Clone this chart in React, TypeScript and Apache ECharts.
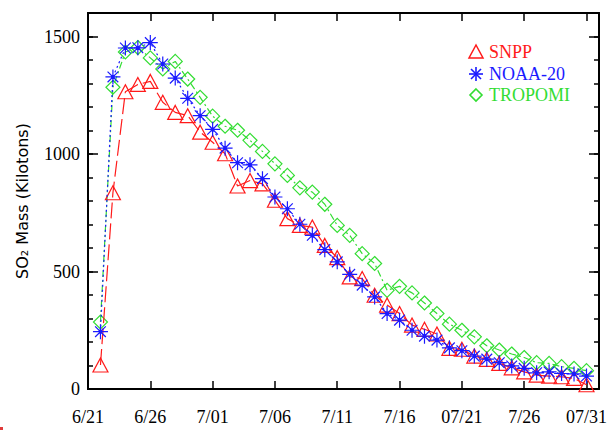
import React, { useEffect, useRef } from 'react';
import * as echarts from 'echarts';

// Observation dates (month-day), day 0 of the axis is 06-21
const axisStart = '06-21';
const dates = [
  '06-22', '06-23', '06-24', '06-25', '06-26', '06-27', '06-28', '06-29', '06-30',
  '07-01', '07-02', '07-03', '07-04', '07-05', '07-06', '07-07', '07-08', '07-09', '07-10',
  '07-11', '07-12', '07-13', '07-14', '07-15', '07-16', '07-17', '07-18', '07-19', '07-20',
  '07-21', '07-22', '07-23', '07-24', '07-25', '07-26', '07-27', '07-28', '07-29', '07-30',
  '07-31',
];
const xTickLabels = ['6/21', '6/26', '7/01', '7/06', '7/11', '7/16', '07/21', '7/26', '07/31'];
const yTickLabels = ['0', '500', '1000', '1500'];

const snpp = [
  102, 835, 1265, 1296, 1309, 1220, 1177, 1163, 1093, 1050,
  1001, 864, 887, 873, 803, 725, 696, 689, 611, 559,
  477, 470, 399, 357, 321, 272, 254, 234, 173, 169,
  140, 126, 109, 90, 73, 59, 55, 52, 45, 18,
];
const noaa20 = [
  244, 1328, 1451, 1452, 1474, 1383, 1323, 1237, 1163, 1105,
  1025, 963, 954, 895, 817, 767, 701, 654, 593, 541,
  488, 442, 392, 321, 293, 250, 225, 208, 175, 163,
  140, 127, 112, 98, 88, 69, 73, 66, 64, 55,
];
const tropomi = [
  285, 1284, 1434, 1453, 1409, 1362, 1394, 1319, 1241, 1161,
  1118, 1101, 1058, 1011, 958, 909, 856, 838, 786, 696,
  654, 576, 534, 420, 437, 409, 366, 321, 276, 250,
  222, 184, 166, 149, 134, 112, 109, 95, 88, 78,
];

const RED = '#ff1a1a';
const BLUE = '#1a1aff';
const GREEN = '#33dd33';
const SERIF = 'Liberation Serif';

function dayOffset(md: string): number {
  const [m, d] = md.split('-').map(Number);
  const [m0, d0] = axisStart.split('-').map(Number);
  return Math.round((Date.UTC(2021, m - 1, d) - Date.UTC(2021, m0 - 1, d0)) / 86400000);
}

const STAR =
  'path://M7,0L7,14M0,7L14,7M2,2L12,12M2,12L12,2M5.6,7a1.4,1.4 0 1,0 2.8,0a1.4,1.4 0 1,0 -2.8,0Z';

export default function App() {
  const ref = useRef<HTMLDivElement>(null);
  useEffect(() => {
    if (!ref.current) return;
    const chart = echarts.init(ref.current, undefined, { renderer: 'svg' });
    const toData = (vals: number[]) => dates.map((d, i) => [dayOffset(d), vals[i]]);

    const yBase = {
      type: 'value',
      min: 0,
      max: 1600,
      splitLine: { show: false },
      axisLine: { show: true, onZero: false, lineStyle: { color: '#000', width: 2 } },
    };
    const xBase = {
      type: 'value',
      min: 0,
      max: 41,
      interval: 5,
      splitLine: { show: false },
      axisLine: { show: true, onZero: false, lineStyle: { color: '#000', width: 2 } },
      axisTick: { show: true, inside: true, length: 8, lineStyle: { color: '#000', width: 1.5 } },
    };

    const option: any = {
      animation: false,
      grid: { left: 88, right: 9, top: 13, bottom: 41 },
      xAxis: [
        {
          ...xBase,
          position: 'bottom',
          axisLabel: {
            margin: 19,
            fontSize: 18,
            fontFamily: SERIF,
            color: '#000',
            formatter: (v: number) => (v % 5 === 0 ? xTickLabels[v / 5] ?? '' : ''),
          },
        },
        { ...xBase, position: 'top', axisLabel: { show: false } },
      ],
      yAxis: [
        {
          ...yBase,
          position: 'left',
          interval: 500,
          axisTick: { show: true, inside: true, length: 10, lineStyle: { color: '#000', width: 1.5 } },
          axisLabel: {
            margin: 8,
            fontSize: 18,
            fontFamily: SERIF,
            color: '#000',
            formatter: (v: number) => (v % 500 === 0 ? yTickLabels[v / 500] ?? '' : ''),
          },
          name: 'SO\u2082 Mass (Kilotons)',
          nameLocation: 'middle',
          nameGap: 58,
          nameTextStyle: { fontSize: 16, fontFamily: 'DejaVu Sans', color: '#000' },
        },
        {
          ...yBase,
          position: 'left',
          interval: 100,
          axisTick: { show: true, inside: true, length: 5, lineStyle: { color: '#000', width: 1.5 } },
          axisLabel: { show: false },
        },
        {
          ...yBase,
          position: 'right',
          interval: 500,
          axisTick: { show: true, inside: true, length: 10, lineStyle: { color: '#000', width: 1.5 } },
          axisLabel: { show: false },
        },
        {
          ...yBase,
          position: 'right',
          interval: 100,
          axisTick: { show: true, inside: true, length: 5, lineStyle: { color: '#000', width: 1.5 } },
          axisLabel: { show: false },
        },
      ],
      series: [
        {
          name: 'SNPP',
          type: 'line',
          data: toData(snpp),
          symbol: 'triangle',
          symbolSize: [15, 14],
          itemStyle: { color: 'rgba(0,0,0,0)', borderColor: RED, borderWidth: 1.2 },
          lineStyle: { color: RED, width: 1.2, type: [16, 5] },
          z: 3,
        },
        {
          name: 'NOAA-20',
          type: 'line',
          data: toData(noaa20),
          symbol: STAR,
          symbolSize: 15,
          itemStyle: { color: BLUE, borderColor: BLUE, borderWidth: 1.2 },
          lineStyle: { color: BLUE, width: 1.2, type: [2, 3] },
          z: 4,
        },
        {
          name: 'TROPOMI',
          type: 'line',
          data: toData(tropomi),
          symbol: 'diamond',
          symbolSize: [14, 14],
          itemStyle: { color: 'rgba(0,0,0,0)', borderColor: GREEN, borderWidth: 1.2 },
          lineStyle: { color: GREEN, width: 1.2, type: [7, 3, 2, 3] },
          z: 2,
        },
      ],
      graphic: [
        {
          type: 'polygon',
          shape: { points: [[469, 58], [483, 58], [476, 45]] },
          style: { fill: 'none', stroke: RED, lineWidth: 1.5 },
        },
        {
          type: 'group',
          children: [
            { type: 'line', shape: { x1: 476, y1: 67, x2: 476, y2: 81 }, style: { stroke: BLUE, lineWidth: 1.6 } },
            { type: 'line', shape: { x1: 469, y1: 74, x2: 483, y2: 74 }, style: { stroke: BLUE, lineWidth: 1.6 } },
            { type: 'line', shape: { x1: 471, y1: 69, x2: 481, y2: 79 }, style: { stroke: BLUE, lineWidth: 1.6 } },
            { type: 'line', shape: { x1: 471, y1: 79, x2: 481, y2: 69 }, style: { stroke: BLUE, lineWidth: 1.6 } },
          ],
        },
        {
          type: 'polygon',
          shape: { points: [[476, 89], [482, 95], [476, 101], [470, 95]] },
          style: { fill: 'none', stroke: GREEN, lineWidth: 1.6 },
        },
        {
          type: 'text', x: 489, y: 52,
          style: { text: 'SNPP', fill: RED, font: `18px "${SERIF}"`, verticalAlign: 'middle' },
        },
        {
          type: 'text', x: 489, y: 74,
          style: { text: 'NOAA-20', fill: BLUE, font: `18px "${SERIF}"`, verticalAlign: 'middle' },
        },
        {
          type: 'text', x: 489, y: 95,
          style: { text: 'TROPOMI', fill: GREEN, font: `18px "${SERIF}"`, verticalAlign: 'middle' },
        },
        {
          type: 'rect',
          shape: { x: 0, y: 427, width: 3, height: 3 },
          style: { fill: '#e03a3a' },
        },
      ],
    };
    chart.setOption(option);
    return () => chart.dispose();
  }, []);

  return (
    <div
      ref={ref}
      style={{ position: 'absolute', left: 0, top: 0, width: 610, height: 430, background: '#fff' }}
    />
  );
}
